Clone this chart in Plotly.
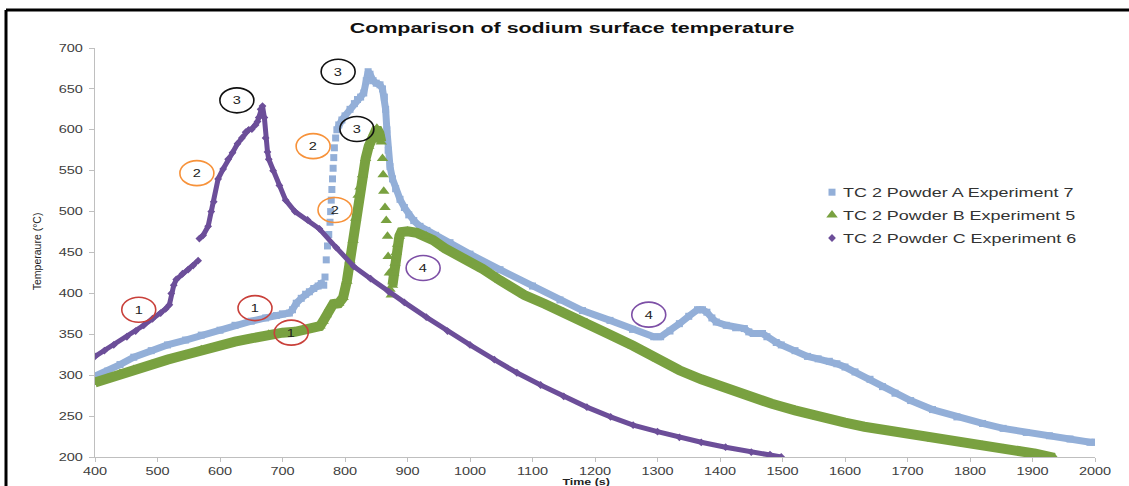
import plotly.graph_objects as go

# ---------------- data ----------------
series_names = ["TC 2 Powder A Experiment 7",
                "TC 2 Powder B Experiment 5",
                "TC 2 Powder C Experiment 6"]

# Powder A (blue) - dense part, None = gap in the trace
a_time = [400, 420, 440, 462, 490, 516, 545, 570, 600, 624, 650, 673, 690, 700, 711,
          716, 722, 730, 737, 743, 750, 757, 762, 766, None,
          787, 790, 795, 800, 808, 815, 820, 825, 830, 834, 837, 840, 845, 850, 856,
          860, 863, 865, 867, 869, 872, 876, 881, 888, 895, 902, 910, 920, 931, 945,
          968, 1000, 1048, 1100, 1144, 1180, 1224, 1260, 1294, 1305, 1320, 1335, 1350,
          1364, 1372, 1379, 1387, 1394, 1410, 1425, 1439, 1446, 1453, 1468, 1475, 1490,
          1498, 1520, 1540, 1557, 1575, 1587, 1600, 1616, 1640, 1660, 1680, 1705, 1740,
          1779, 1820, 1853, 1890, 1927, 1960, 1992, 2000]
a_temp = [299, 305, 313, 322, 330, 337, 343, 349, 355, 361, 366, 370, 373, 375, 376,
          380, 388, 394, 399, 402, 406, 409, 412, 410, None,
          600, 606, 612, 617, 625, 632, 637, 640, 645, 660, 671, 668, 660, 657, 655,
          650, 640, 625, 600, 575, 555, 540, 528, 515, 505, 496, 489, 482, 477, 471,
          462, 448, 429, 409, 392, 379, 367, 356, 347, 347, 354, 363, 372,
          380, 380, 377, 370, 365, 361, 358, 357, 353, 351, 351, 347, 340,
          337, 330, 323, 320, 317, 314, 310, 304, 295, 286, 278, 269, 258,
          249, 241, 235, 230, 226, 222, 218, 218]
# Powder A - sparse markers of the fast rise
a_rise_time = [768, 770, 772, 774, 776, 777, 778, 779, 780, 781, 782, 783, 785]
a_rise_temp = [420, 441, 458, 472, 487, 500, 514, 527, 540, 553, 566, 578, 590]

# Powder B (green)
b_time = [400, 420, 440, 462, 490, 516, 545, 570, 600, 624, 650, 678, 700, 720, 732,
          745, 755, 760, 765, 770, 775, 781, 790, 797, 803, 808, 813, 817, 821, 824,
          828, 833, 838, 843, 847, 851, 855, 858, None,
          876, 878, 880, 882, 884, 887, 890, 900, 915, 930, 941, 960, 995, 1020, 1048,
          1087, 1120, 1150, 1187, 1220, 1261, 1300, 1335, 1370, 1409, 1450, 1483, 1520,
          1557, 1600, 1631, 1670, 1705, 1740, 1779, 1820, 1853, 1880, 1905, 1920, 1935]
b_temp = [291, 296, 302, 307, 313, 319, 325, 331, 336, 341, 345, 350, 352, 353, 355,
          356, 357, 360, 366, 374, 382, 387, 388, 395, 415, 440, 465, 492, 520, 530,
          545, 565, 580, 590, 597, 602, 596, 585, None,
          410, 425, 437, 450, 460, 470, 475, 476, 474, 470, 465, 455, 441, 430, 416,
          398, 387, 377, 364, 351, 336, 320, 306, 295, 284, 273, 265, 257,
          249, 242, 237, 232, 227, 222, 218, 214, 210, 207, 204, 201, 199]
# Powder B - scattered markers of the fast drop
b_drop_time = [860, 861, 862, 864, 866, 868, 869, 871, 872, 874]
b_drop_temp = [565, 545, 525, 505, 489, 470, 445, 425, 405, 398]

# Powder C (purple)
c_time = [400, 415, 430, 451, 465, 478, 492, 505, 513, 519, 522, 526, 530, 540, 549,
          557, 565, None,
          567, 573, 581, 586, 590, 597, 605, 613, 620, 628, 635, 641, 646, 651, 657,
          660, 662, 665, 668, 671, 673, 676, 678, 685, 695, 705, 720, 740, 759, 786,
          814, 841, 870, 895, 930, 964, 1000, 1039, 1075, 1113, 1150, 1187, 1225, 1261,
          1300, 1335, 1370, 1409, 1450, 1480, 1498]
c_temp = [323, 330, 337, 347, 354, 361, 369, 376, 381, 386, 400, 410, 417, 424, 429,
          434, 440, None,
          467, 471, 482, 500, 512, 540, 552, 564, 572, 583, 590, 597, 600, 601, 606,
          610, 615, 625, 629, 615, 590, 573, 564, 550, 532, 514, 500, 490, 479, 456,
          433, 418, 402, 389, 371, 354, 337, 319, 303, 288, 274, 261, 249, 239,
          231, 224, 218, 212, 206, 203, 200]

# numbered circle annotations: label, time, temperature, colour key
note_labels = ["1", "1", "1", "2", "2", "2", "3", "3", "3", "4", "4"]
note_time = [470, 656, 714, 563, 749, 784, 627, 789, 819, 925, 1286]
note_temp = [380, 382, 352, 547, 580, 502, 636, 671, 601, 431, 374]
note_kind = ["red", "red", "red", "orange", "orange", "orange",
             "black", "black", "black", "purple", "purple"]

title_text = "Comparison of sodium surface temperature"
x_title = "Time (s)"
y_title = "Temperaure (°C)"
x_ticks = list(range(400, 2001, 100))
y_ticks = list(range(200, 701, 50))

# ---------------- styling ----------------
ARIAL = "Arial, Liberation Sans, sans-serif"
col_a, col_b, col_c = "#93AFD8", "#79A140", "#6C4E99"
ring_colors = {"red": "#C9403A", "orange": "#F7923A", "black": "#111111", "purple": "#7D4FA6"}

fig = go.Figure()

def add_series(t, y, extra_t, extra_y, name, color, width, symbol, size):
    fig.add_trace(go.Scatter(x=t, y=y, mode="lines", connectgaps=False,
                             line=dict(color=color, width=width),
                             showlegend=False, legendgroup=name, hoverinfo="skip"))
    fig.add_trace(go.Scatter(x=[v for v in t if v is not None] + extra_t,
                             y=[v for v in y if v is not None] + extra_y,
                             mode="markers", name=name, legendgroup=name,
                             marker=dict(color=color, symbol=symbol, size=size,
                                         line=dict(width=0))))

add_series(a_time, a_temp, a_rise_time, a_rise_temp, series_names[0], col_a, 7, "square", 7)
add_series(b_time, b_temp, b_drop_time, b_drop_temp, series_names[1], col_b, 10, "triangle-up", 10)
add_series(c_time, c_temp, [], [], series_names[2], col_c, 5, "diamond", 6)

shapes = []
annotations = []
for lab, t, y, k in zip(note_labels, note_time, note_temp, note_kind):
    shapes.append(dict(type="circle", xref="x", yref="y", xsizemode="pixel", ysizemode="pixel",
                       xanchor=t, yanchor=y, x0=-17, x1=17, y0=-12.5, y1=12.5,
                       line=dict(color=ring_colors[k], width=1.6), fillcolor="rgba(255,255,255,0)"))
    annotations.append(dict(x=t, y=y, xref="x", yref="y", text=lab, showarrow=False,
                            xanchor="center", yanchor="middle",
                            font=dict(family=ARIAL, size=10.5, color="#222222")))

# frame lines (top and left edge of the picture)
shapes.append(dict(type="line", xref="paper", yref="paper", x0=-0.089, x1=1.05,
                   y0=1.093, y1=1.093, line=dict(color="black", width=3)))
shapes.append(dict(type="line", xref="paper", yref="paper", x0=-0.089, x1=-0.089,
                   y0=1.093, y1=-0.08, line=dict(color="black", width=3)))

annotations.append(dict(text="<b>" + title_text + "</b>", xref="paper", yref="paper",
                        x=0.477, y=1.051, showarrow=False, xanchor="center", yanchor="middle",
                        font=dict(family=ARIAL, size=15.5, color="#111111")))
annotations.append(dict(text="<b>" + x_title + "</b>", xref="paper", yref="paper",
                        x=0.491, y=-0.061, showarrow=False, xanchor="center", yanchor="middle",
                        font=dict(family=ARIAL, size=9, color="#222222")))
annotations.append(dict(text=y_title, xref="paper", yref="paper", x=-0.058, y=0.503,
                        showarrow=False, textangle=-90, xanchor="center", yanchor="middle",
                        font=dict(family=ARIAL, size=10.5, color="#222222")))

axis_common = dict(showgrid=False, zeroline=False, showline=True, linecolor="#BFBFBF",
                   linewidth=1, ticks="outside", tickcolor="#BFBFBF",
                   tickfont=dict(family=ARIAL, size=10.5, color="#404040"))

fig.update_layout(
    width=1129, height=486,
    margin=dict(l=95, r=34, t=48, b=29, autoexpand=False),
    paper_bgcolor="white", plot_bgcolor="white",
    xaxis=dict(range=[400, 2000], tickvals=x_ticks, ticklen=4, **axis_common),
    yaxis=dict(range=[200, 700], tickvals=y_ticks, ticklen=5, ticklabelstandoff=4,
               **axis_common),
    legend=dict(x=0.708, y=0.684, xanchor="left", yanchor="top", tracegroupgap=3,
                bgcolor="rgba(255,255,255,0)",
                font=dict(family=ARIAL, size=13, color="#333333")),
    shapes=shapes, annotations=annotations,
    font=dict(family=ARIAL),
)

# The reference picture is stretched horizontally; widen the horizontal texts the same way.
post = """
document.body.style.margin='0px';
document.body.style.overflow='hidden';
(function(){
  var gd = document.getElementById('{plot_id}');
  function stretch(){
    gd.querySelectorAll('.legend .scrollbox, .legend').forEach(function(g){
      g.removeAttribute('clip-path');
      g.style.clipPath = 'none';
    });
    gd.querySelectorAll('.legend .legendpoints').forEach(function(g){
      g.setAttribute('transform', 'translate(9,0)');
    });
    var nodes = gd.querySelectorAll('.xtick text, .ytick text, .legendtext, .annotation-text');
    nodes.forEach(function(t){
      if (t.hasAttribute('textLength')) return;
      if (t.textContent.indexOf('Temperaure') >= 0) return;
      var L = t.getComputedTextLength();
      if (!L) return;
      t.setAttribute('textLength', (L * 1.38).toFixed(1));
      t.setAttribute('lengthAdjust', 'spacingAndGlyphs');
    });
  }
  stretch();
  setTimeout(stretch, 50);
  setTimeout(stretch, 300);
  if (gd.on) gd.on('plotly_afterplot', stretch);
})();
"""

fig.write_html("out.html", config={"displayModeBar": False}, post_script=post)
